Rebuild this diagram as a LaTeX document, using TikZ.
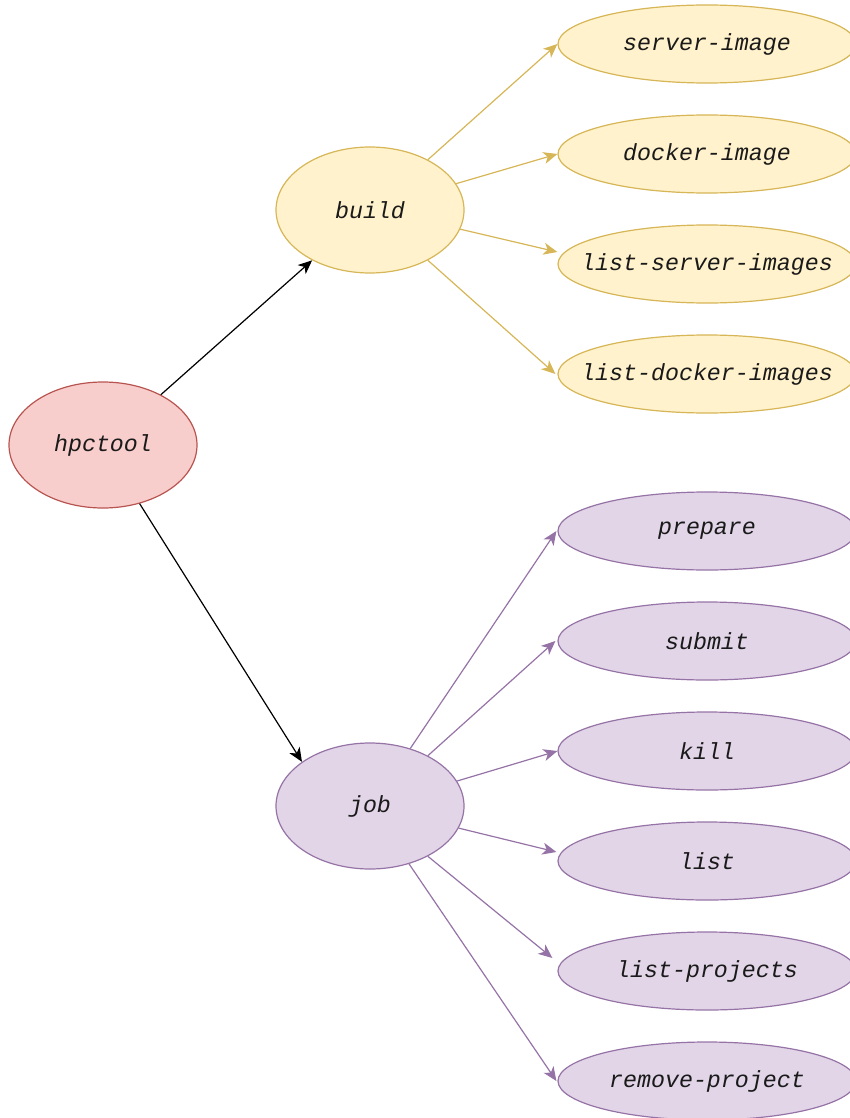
\documentclass[tikz,border=0pt]{standalone}
\usepackage{fontspec}
\setmonofont{Liberation Mono}
\usetikzlibrary{shapes.geometric,arrows.meta}
\definecolor{yfill}{HTML}{FFF2CC}
\definecolor{ydraw}{HTML}{D6B656}
\definecolor{pfill}{HTML}{E1D5E7}
\definecolor{pdraw}{HTML}{9673A6}
\definecolor{rfill}{HTML}{F8CECC}
\definecolor{rdraw}{HTML}{B85450}
\definecolor{txt}{HTML}{1A1A1A}
\tikzset{
  base/.style={ellipse,inner sep=0pt,line width=1.2pt,text=txt,
    font=\fontsize{23.3}{28}\selectfont\ttfamily\itshape},
  big/.style={base,minimum width=188pt,minimum height=126pt},
  leaf/.style={base,minimum width=298pt,minimum height=78pt},
  yel/.style={fill=yfill,draw=ydraw},
  pur/.style={fill=pfill,draw=pdraw},
  red/.style={fill=rfill,draw=rdraw},
  arr/.style={line width=1.2pt,-{Stealth[length=14pt,width=12pt,inset=4pt]}},
}
\newcommand{\lbl}[1]{\makebox[0pt]{#1}}
\begin{document}
\begin{tikzpicture}[x=1pt,y=-1pt]
\useasboundingbox (0,0) rectangle (850,1118);
\clip (0,0) rectangle (850,1118);
\node[big,red] (hp) at (103,445) {\lbl{hpctool}};
\node[big,yel] (build) at (370,210) {\lbl{build}};
\node[big,pur] (job) at (370,806) {\lbl{job}};

\node[leaf,yel] (si) at (707,44) {\lbl{server-image}};
\node[leaf,yel] (di) at (707,154) {\lbl{docker-image}};
\node[leaf,yel] (lsi) at (707,264) {\lbl{list-server-images}};
\node[leaf,yel] (ldi) at (707,374) {\lbl{list-docker-images}};

\node[leaf,pur] (prep) at (707,531) {\lbl{prepare}};
\node[leaf,pur] (sub) at (707,641) {\lbl{submit}};
\node[leaf,pur] (kill) at (707,751) {\lbl{kill}};
\node[leaf,pur] (list) at (707,861) {\lbl{list}};
\node[leaf,pur] (lp) at (707,971) {\lbl{list-projects}};
\node[leaf,pur] (rp) at (707,1081) {\lbl{remove-project}};

\draw[arr,black] (hp.41) -- (build.221);
\draw[arr,black] (hp.-58) -- (job.147);

\draw[arr,ydraw] (build.41) -- (si.west);
\draw[arr,ydraw] (build.17) -- (di.west);
\draw[arr,ydraw] (build.-12.5) -- ([yshift=12pt]lsi.west);
\draw[arr,ydraw] (build.-41) -- ([xshift=-2pt]ldi.west);

\draw[arr,pdraw] (job.55) -- ([xshift=-1pt]prep.west);
\draw[arr,pdraw] (job.41) -- ([xshift=-2pt]sub.west);
\draw[arr,pdraw] (job.16) -- (kill.west);
\draw[arr,pdraw] (job.-14) -- ([xshift=-1pt,yshift=9pt]list.west);
\draw[arr,pdraw] (job.-41) -- ([xshift=-5pt,yshift=13pt]lp.west);
\draw[arr,pdraw] (job.-56) -- ([xshift=-1pt]rp.west);
\end{tikzpicture}
\end{document}
